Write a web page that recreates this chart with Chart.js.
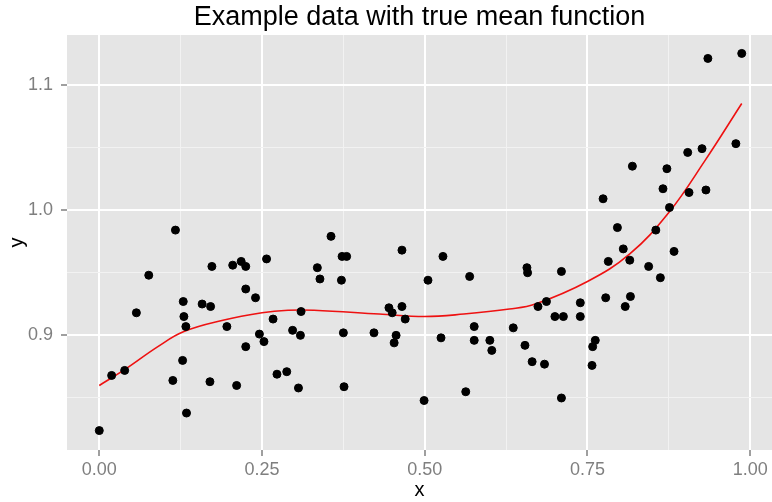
<!DOCTYPE html>
<html>
<head>
<meta charset="utf-8">
<script src="https://cdn.jsdelivr.net/npm/chart.js@4/dist/chart.umd.min.js"></script>
<style>
  html, body { margin: 0; padding: 0; background: #fff; }
  #wrap { width: 772px; height: 502px; }
</style>
</head>
<body>
<div id="wrap"><canvas id="plot" width="772" height="502"></canvas></div>
<script>
// observed sample
const pointX = [
  0.000, 0.019, 0.039, 0.057, 0.076, 0.113, 0.117, 0.128, 0.129, 0.130,
  0.133, 0.134, 0.158, 0.170, 0.171, 0.173, 0.196, 0.205, 0.211, 0.218,
  0.225, 0.225, 0.225, 0.240, 0.246, 0.253, 0.257, 0.267, 0.273, 0.288,
  0.297, 0.306, 0.309, 0.310, 0.335, 0.339, 0.356, 0.372, 0.373, 0.375,
  0.376, 0.380, 0.422, 0.445, 0.450, 0.453, 0.456, 0.465, 0.465, 0.470,
  0.499, 0.505, 0.525, 0.528, 0.563, 0.569, 0.576, 0.576, 0.600, 0.603,
  0.636, 0.654, 0.657, 0.658, 0.665, 0.674, 0.684, 0.687, 0.700, 0.710,
  0.710, 0.713, 0.739, 0.739, 0.757, 0.758, 0.762, 0.774, 0.778, 0.782,
  0.796, 0.805, 0.808, 0.815, 0.816, 0.819, 0.844, 0.855, 0.862, 0.866,
  0.872, 0.876, 0.883, 0.904, 0.906, 0.926, 0.932, 0.935, 0.978, 0.987
];
const pointY = [
  0.824, 0.868, 0.872, 0.918, 0.948, 0.864, 0.984, 0.880, 0.927, 0.915,
  0.907, 0.838, 0.925, 0.863, 0.923, 0.955, 0.907, 0.956, 0.860, 0.959,
  0.955, 0.891, 0.937, 0.930, 0.901, 0.895, 0.961, 0.913, 0.869, 0.871,
  0.904, 0.858, 0.900, 0.919, 0.954, 0.945, 0.979, 0.944, 0.963, 0.902,
  0.859, 0.963, 0.902, 0.922, 0.918, 0.894, 0.900, 0.923, 0.968, 0.913,
  0.848, 0.944, 0.898, 0.963, 0.855, 0.947, 0.907, 0.896, 0.896, 0.888,
  0.906, 0.892, 0.954, 0.950, 0.879, 0.923, 0.877, 0.927, 0.915, 0.951,
  0.850, 0.915, 0.926, 0.915, 0.876, 0.891, 0.896, 1.009, 0.930, 0.959,
  0.986, 0.969, 0.923, 0.960, 0.931, 1.035, 0.955, 0.984, 0.946, 1.017,
  1.033, 1.002, 0.967, 1.046, 1.014, 1.049, 1.016, 1.121, 1.053, 1.125
];

// true mean function
const meanX = [0, 0.04, 0.09, 0.13, 0.19, 0.25, 0.29, 0.33, 0.43, 0.50, 0.56, 0.63, 0.67, 0.75, 0.815, 0.875, 0.93, 0.987];
const meanY = [0.860, 0.873, 0.891, 0.903, 0.912, 0.918, 0.920, 0.920, 0.917, 0.915, 0.917, 0.921, 0.925, 0.943, 0.965, 0.998, 1.039, 1.085];

const xTicks = [0, 0.125, 0.25, 0.375, 0.5, 0.625, 0.75, 0.875, 1.0];
const yTicks = [0.85, 0.9, 0.95, 1.0, 1.05, 1.1];
const xMajor = [0, 0.25, 0.5, 0.75, 1.0];
const yMajor = [0.9, 1.0, 1.1];

const isMajor = (list, v) => list.some(m => Math.abs(m - v) < 1e-9);

const panelBg = {
  id: 'panelBg',
  beforeDraw(chart) {
    const { ctx, chartArea: a } = chart;
    ctx.save();
    ctx.fillStyle = '#e5e5e5';
    ctx.fillRect(a.left, a.top, a.right - a.left, a.bottom - a.top);
    ctx.restore();
  }
};

function gridFor(major) {
  return {
    color: c => isMajor(major, c.tick.value) ? '#ffffff' : '#f2f2f2',
    lineWidth: c => isMajor(major, c.tick.value) ? 2 : 1,
    tickColor: c => isMajor(major, c.tick.value) ? '#7f7f7f' : 'rgba(0,0,0,0)',
    tickWidth: 1.5,
    tickLength: 6
  };
}

new Chart(document.getElementById('plot'), {
  type: 'scatter',
  data: {
    datasets: [
      {
        label: 'data',
        data: pointX.map((x, i) => ({ x, y: pointY[i] })),
        backgroundColor: '#000',
        borderColor: '#000',
        pointRadius: 4,
        pointHoverRadius: 4
      },
      {
        type: 'line',
        label: 'mean',
        data: meanX.map((x, i) => ({ x, y: meanY[i] })),
        borderColor: '#ee1111',
        borderWidth: 1.6,
        pointRadius: 0,
        fill: false,
        tension: 0.4
      }
    ]
  },
  options: {
    responsive: false,
    animation: false,
    layout: { padding: 0, autoPadding: false },
    plugins: {
      legend: { display: false },
      tooltip: { enabled: false },
      title: {
        display: true,
        text: 'Example data with true mean function',
        fullSize: false,
        color: '#000',
        font: { family: 'Liberation Sans', size: 27, weight: 'normal', lineHeight: 1.2 },
        padding: { top: 1.5, bottom: 1.1 }
      }
    },
    scales: {
      x: {
        type: 'linear',
        min: -0.0496,
        max: 1.0335,
        afterBuildTicks: s => { s.ticks = xTicks.map(v => ({ value: v })); },
        afterFit: s => { s.height = 52; s.paddingLeft = 0; s.paddingRight = 0; },
        border: { display: false },
        grid: gridFor(xMajor),
        ticks: {
          autoSkip: false,
          maxRotation: 0,
          padding: 3,
          color: '#7f7f7f',
          font: { family: 'Liberation Sans', size: 18 },
          callback: v => isMajor(xMajor, v) ? v.toFixed(2) : ''
        },
        title: {
          display: true,
          text: 'x',
          color: '#000',
          font: { family: 'Liberation Sans', size: 20 },
          padding: 0
        }
      },
      y: {
        type: 'linear',
        min: 0.8085,
        max: 1.1397,
        afterBuildTicks: s => { s.ticks = yTicks.map(v => ({ value: v })); },
        afterFit: s => { s.width = 67; s.paddingTop = 0; s.paddingBottom = 0; },
        border: { display: false },
        grid: gridFor(yMajor),
        ticks: {
          autoSkip: false,
          padding: 8,
          color: '#7f7f7f',
          font: { family: 'Liberation Sans', size: 18 },
          callback: v => isMajor(yMajor, v) ? v.toFixed(1) : ''
        },
        title: {
          display: true,
          text: 'y',
          color: '#000',
          font: { family: 'Liberation Sans', size: 20 },
          padding: 5
        }
      }
    }
  },
  plugins: [panelBg]
});
</script>
</body>
</html>
